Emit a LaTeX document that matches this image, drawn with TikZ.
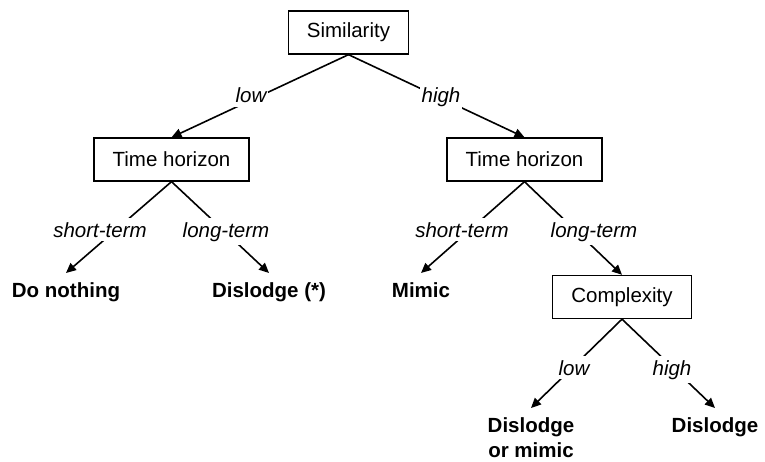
\documentclass[tikz,border=0pt]{standalone}
\usepackage{fontspec}
\setmainfont{Liberation Sans}
\usetikzlibrary{arrows.meta}
\begin{document}
\begin{tikzpicture}[x=1pt,y=-1pt,
  every node/.style={font=\fontsize{20.5pt}{25pt}\selectfont},
  box/.style={draw, line width=1.3pt, inner xsep=18.5pt, inner ysep=0pt, minimum height=43pt},
  leaf/.style={font=\fontsize{20.5pt}{25pt}\selectfont\bfseries, inner xsep=0pt, inner ysep=9.5pt, anchor=north, align=center},
  lbl/.style={font=\fontsize{20.5pt}{25pt}\selectfont\itshape, fill=white, inner xsep=1.5pt, inner ysep=4pt, anchor=base},
  edge/.style={line width=1.6pt, -{Triangle[length=10pt,width=9pt]}}]
\useasboundingbox (0,0) rectangle (765,462);
\node[box] (sim) at (348.5,32.5) {Similarity};
\node[box] (thl) at (171.5,159.5) {Time horizon};
\node[box] (thr) at (524.5,159.5) {Time horizon};
\node[box] (cx) at (622,297) {Complexity};
\node[leaf] (dn) at (66,273) {Do nothing};
\node[leaf] (dl) at (269,273) {Dislodge (*)};
\node[leaf] (mi) at (421,273) {Mimic};
\node[leaf] (dm) at (531,408) {Dislodge\\or mimic};
\node[leaf] (dh) at (715,408) {Dislodge};
\draw[edge] (sim.south) -- (thl.north);
\draw[edge] (sim.south) -- (thr.north);
\draw[edge] (thl.south) -- (dn.north);
\draw[edge] (thl.south) -- (dl.north);
\draw[edge] (thr.south) -- (mi.north);
\draw[edge] (thr.south) -- (cx.north);
\draw[edge] (cx.south) -- (dm.north);
\draw[edge] (cx.south) -- (dh.north);
\node[lbl] (l1) at (251,103) {low};
\node[lbl] (l2) at (441,103) {high};
\node[lbl] (l3) at (100,237) {short-term};
\node[lbl] (l4) at (226,237) {long-term};
\node[lbl] (l5) at (462,237) {short-term};
\node[lbl] (l6) at (594,237) {long-term};
\node[lbl] (l7) at (574,375) {low};
\node[lbl] (l8) at (672,375) {high};
\end{tikzpicture}
\end{document}
